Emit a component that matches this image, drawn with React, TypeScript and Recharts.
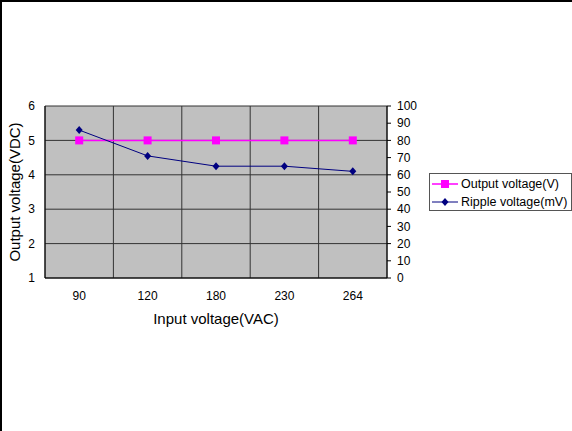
import { LineChart, Line, XAxis, YAxis, CartesianGrid } from 'recharts';

// Input line voltage (VAC) test points
const inputVoltages = ['90', '120', '180', '230', '264'];
// Measured output voltage (V) at each input
const outputVoltage = [5, 5, 5, 5, 5];
// Measured output ripple (mV) at each input
const rippleVoltage = [86, 71, 65, 65, 62];

const leftTicks = [1, 2, 3, 4, 5, 6];
const rightTicks = [0, 10, 20, 30, 40, 50, 60, 70, 80, 90, 100];

const data = inputVoltages.map((v, i) => ({
  input: v,
  output: outputVoltage[i],
  ripple: rippleVoltage[i],
}));

const FONT = '"Liberation Sans", Arial, sans-serif';
const PINK = '#FF00FF';
const NAVY = '#000080';

const SquareDot = (props: any) => {
  const { cx, cy, index } = props;
  if (cx == null || cy == null) return <g key={index} />;
  return <rect key={index} x={cx - 4} y={cy - 4} width={8} height={8} fill={PINK} />;
};

const DiamondDot = (props: any) => {
  const { cx, cy, index } = props;
  if (cx == null || cy == null) return <g key={index} />;
  return (
    <path
      key={index}
      d={`M${cx},${cy - 4} L${cx + 3.5},${cy} L${cx},${cy + 4} L${cx - 3.5},${cy} Z`}
      fill={NAVY}
    />
  );
};

const legendItems = [
  { label: 'Output voltage(V)', color: PINK, square: true },
  { label: 'Ripple voltage(mV)', color: NAVY, square: false },
];

const LegendBox = () => (
  <div
    style={{
      position: 'absolute',
      left: 429,
      top: 173,
      width: 141,
      height: 36,
      border: '1px solid #555',
      background: '#fff',
      fontFamily: FONT,
      fontSize: 12.5,
      color: '#000',
    }}
  >
    {legendItems.map((item) => (
      <div key={item.label} style={{ display: 'flex', alignItems: 'center', height: 18, marginTop: item.square ? 1 : 0 }}>
        <svg width={29} height={18} style={{ marginLeft: 2 }}>
          <line x1={0} x2={26} y1={9} y2={9} stroke={item.color} strokeWidth={item.square ? 1.5 : 1} />
          {item.square ? (
            <rect x={9} y={5} width={8} height={8} fill={item.color} />
          ) : (
            <path d="M13,5 L16.5,9 L13,13 L9.5,9 Z" fill={item.color} />
          )}
        </svg>
        <span style={{ whiteSpace: 'nowrap' }}>{item.label}</span>
      </div>
    ))}
  </div>
);

export default function App() {
  return (
    <div style={{ position: 'absolute', left: 0, top: 0, width: 572, height: 431, background: '#fff' }}>
      <LineChart
        width={572}
        height={431}
        data={data}
        margin={{ top: 106, right: 145, bottom: 104, left: 0 }}
      >
        <CartesianGrid
          yAxisId="left"
          fill="#C0C0C0"
          stroke="#333"
          strokeWidth={1}
          fillOpacity={1}
          verticalCoordinatesGenerator={({ offset }: any) => {
            const step = offset.width / inputVoltages.length;
            return inputVoltages.map((_, i) => offset.left + i * step).concat(offset.left + offset.width);
          }}
        />
        <XAxis
          dataKey="input"
          scale="band"
          tickLine={false}
          tickSize={6}
          tickMargin={7}
          height={49}
          axisLine={{ stroke: '#000' }}
          tick={{ fill: '#000', fontSize: 12, fontFamily: FONT }}
          label={{ value: 'Input voltage(VAC)', position: 'insideBottom', offset: 3, fill: '#000', fontSize: 15, fontFamily: FONT }}
        />
        <YAxis
          yAxisId="left"
          domain={[1, 6]}
          ticks={leftTicks}
          interval={0}
          width={45}
          tickLine={false}
          tickSize={0}
          tickMargin={10}
          axisLine={{ stroke: '#000' }}
          tick={{ fill: '#000', fontSize: 12, fontFamily: FONT }}
          label={{ value: 'Output voltage(VDC)', angle: -90, position: 'center', dx: -8, fill: '#000', fontSize: 15, fontFamily: FONT }}
        />
        <YAxis
          yAxisId="right"
          orientation="right"
          domain={[0, 100]}
          ticks={rightTicks}
          interval={0}
          width={40}
          tickSize={4}
          tickMargin={6}
          tickLine={{ stroke: '#000' }}
          axisLine={{ stroke: '#000' }}
          tick={{ fill: '#000', fontSize: 12, fontFamily: FONT, textAnchor: 'start' }}
        />
        <Line
          yAxisId="left"
          dataKey="output"
          name="Output voltage(V)"
          stroke={PINK}
          strokeWidth={1.5}
          dot={<SquareDot />}
          activeDot={false}
          isAnimationActive={false}
        />
        <Line
          yAxisId="right"
          dataKey="ripple"
          name="Ripple voltage(mV)"
          stroke={NAVY}
          strokeWidth={1}
          dot={<DiamondDot />}
          activeDot={false}
          isAnimationActive={false}
        />
      </LineChart>
      <LegendBox />
      <div
        style={{
          position: 'absolute',
          left: 0,
          top: 0,
          width: 572,
          height: 431,
          borderTop: '2px solid #000',
          borderLeft: '2px solid #000',
          boxSizing: 'border-box',
          pointerEvents: 'none',
        }}
      />
    </div>
  );
}
